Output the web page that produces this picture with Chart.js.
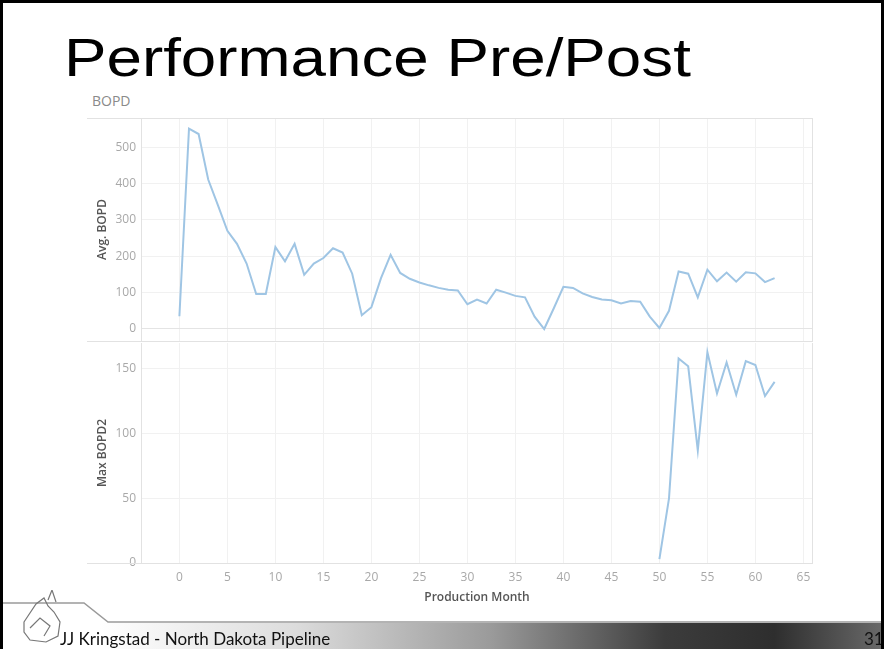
<!DOCTYPE html>
<html>
<head>
<meta charset="utf-8">
<script src="https://cdn.jsdelivr.net/npm/chart.js@4/dist/chart.umd.min.js"></script>
<style>
  html, body { margin:0; padding:0; }
  body { width:884px; height:649px; overflow:hidden; background:#fff; position:relative; }
  #frame { position:absolute; left:0; top:0; width:884px; height:649px; box-sizing:border-box; border:3px solid #000; border-bottom:none; pointer-events:none; z-index:10; }
  #title { position:absolute; left:64px; top:30px; font-family:"Liberation Sans", Arial, sans-serif; font-size:54px; line-height:54px; color:#000; white-space:nowrap; transform-origin:0 0; transform:scaleX(1.18); }
  #sub { position:absolute; left:92px; top:91px; font-family:"Open Sans", sans-serif; font-size:14px; color:#8a8a8a; }
  #cTop { position:absolute; left:0; top:0; }
  #cBot { position:absolute; left:0; top:341px; }
  #footer { position:absolute; left:0; top:590px; }
  #ftext { position:absolute; left:60px; top:628px; font-family:Lato, sans-serif; font-size:17px; color:#111; white-space:nowrap; }
  #fnum { position:absolute; left:864px; top:628px; font-family:Lato, sans-serif; font-size:17px; color:#111; }
</style>
</head>
<body>
<svg id="footer" width="884" height="59" viewBox="0 590 884 59">
  <defs>
    <linearGradient id="g" x1="0" x2="1" y1="0" y2="0">
      <stop offset="0" stop-color="#ffffff"/>
      <stop offset="0.25" stop-color="#dcdcdc"/>
      <stop offset="0.5" stop-color="#9a9a9a"/>
      <stop offset="0.72" stop-color="#3c3c3c"/>
      <stop offset="0.86" stop-color="#2e2e2e"/>
      <stop offset="1" stop-color="#6a6a6a"/>
    </linearGradient>
  </defs>
  <rect x="100" y="623" width="784" height="26" fill="url(#g)"/>
  <path d="M0,603 L84,603 L108,622 L884,622" fill="none" stroke="#9a9a9a" stroke-width="1.5"/>
  <g stroke="#777" stroke-width="1.2" fill="none">
    <path d="M24,622 L36,604 L44,598 L48,606 L54,612 L60,622 L58,636 L46,642 L30,640 L24,632 Z"/>
    <path d="M30,628 L40,618 L50,626 L44,636"/>
    <path d="M48,600 L52,590 L56,602"/>
  </g>
</svg>
<div id="title">Performance Pre/Post</div>
<div id="sub">BOPD</div>
<canvas id="cTop" width="884" height="345"></canvas>
<canvas id="cBot" width="884" height="308"></canvas>
<div id="ftext">JJ Kringstad - North Dakota Pipeline</div>
<div id="fnum">31</div>
<div id="frame"></div>
<script>
// ---------- data ----------
const avgMonths = [0,1,2,3,4,5,6,7,8,9,10,11,12,13,14,15,16,17,18,19,20,21,22,23,24,25,26,27,28,29,30,31,32,33,34,35,36,37,38,39,40,41,42,43,44,45,46,47,48,49,50,51,52,53,54,55,56,57,58,59,60,61,62];
const avgBOPD = [35,551,536,411,341,270,234,180,96,96,225,186,234,149,180,195,222,210,152,38,60,140,204,154,138,128,120,113,108,106,68,81,70,108,100,91,87,34,0,57,116,113,98,88,81,79,70,77,75,34,3,50,158,152,87,163,131,155,130,156,153,129,140];
const maxMonths = [50,51,52,53,54,55,56,57,58,59,60,61,62];
const maxBOPD2 = [3,50,158,152,87,163,131,155,130,156,153,129,140];
const topTicks = [0,100,200,300,400,500];
const botTicks = [0,50,100,150];
const monthTicks = [0,5,10,15,20,25,30,35,40,45,50,55,60,65];

// ---------- style ----------
const LINE = '#9fc5e4';
const GRID = '#f1f1f1';
const FRAME = '#e2e2e2';
const TICK = '#a8a8a8';
const TITLEC = '#555555';
const tickFont = { family: '"Open Sans", sans-serif', size: 12 };
const titleFont = { family: '"Open Sans", sans-serif', size: 12, weight: '600' };

function frameLines(opts) {
  return {
    id: 'frameLines',
    afterDraw(chart) {
      const a = chart.chartArea, ctx = chart.ctx;
      ctx.save();
      ctx.strokeStyle = FRAME; ctx.lineWidth = 1;
      ctx.beginPath();
      if (opts.top) { ctx.moveTo(87, Math.round(a.top) + 0.5); ctx.lineTo(a.right, Math.round(a.top) + 0.5); }
      ctx.moveTo(87, Math.round(a.bottom) + 0.5); ctx.lineTo(a.right, Math.round(a.bottom) + 0.5);
      ctx.moveTo(Math.round(a.left) + 0.5, a.top); ctx.lineTo(Math.round(a.left) + 0.5, a.bottom);
      ctx.moveTo(Math.round(a.right) - 0.5, a.top); ctx.lineTo(Math.round(a.right) - 0.5, a.bottom);
      ctx.stroke();
      ctx.restore();
    }
  };
}

function noPad(s) { s.paddingTop = 0; s.paddingBottom = 0; s.paddingLeft = 0; s.paddingRight = 0; }

function xScale(showLabels) {
  return {
    type: 'linear', min: -4, max: 66,
    afterBuildTicks: s => { s.ticks = monthTicks.map(v => ({ value: v })); },
    grid: { color: GRID, drawTicks: false },
    border: { display: false },
    ticks: { display: showLabels, color: TICK, font: tickFont, padding: 7, maxRotation: 0 },
    title: showLabels ? { display: true, text: 'Production Month', color: TITLEC, font: titleFont, padding: { top: 0, bottom: 3 } } : { display: false },
    afterFit: s => { s.height = showLabels ? 45 : 0; noPad(s); }
  };
}

function yScale(min, max, ticks, title) {
  return {
    type: 'linear', min: min, max: max,
    afterBuildTicks: s => { s.ticks = ticks.map(v => ({ value: v })); },
    grid: { color: ctx => (ctx.tick && ctx.tick.value === 0 ? '#e4e4e4' : GRID), drawTicks: false },
    border: { display: false },
    ticks: { color: TICK, font: tickFont, padding: 5 },
    title: { display: true, text: title, color: TITLEC, font: titleFont, padding: { top: 3, bottom: 3 } },
    afterFit: s => { s.width = 49; noPad(s); }
  };
}

const common = {
  responsive: false,
  animation: false,
  devicePixelRatio: 1,
  plugins: { legend: { display: false }, tooltip: { enabled: false } },
  elements: { point: { radius: 0 }, line: { tension: 0, borderWidth: 2 } }
};

new Chart(document.getElementById('cTop'), {
  type: 'line',
  data: { datasets: [{ data: avgMonths.map((m, i) => ({ x: m, y: avgBOPD[i] })), borderColor: LINE, fill: false }] },
  options: Object.assign({}, common, {
    layout: { autoPadding: false, padding: { left: 92, right: 71, top: 118, bottom: 4 } },
    scales: { x: xScale(false), y: yScale(-33, 580, topTicks, 'Avg. BOPD') }
  }),
  plugins: [frameLines({ top: true })]
});

new Chart(document.getElementById('cBot'), {
  type: 'line',
  data: { datasets: [{ data: maxMonths.map((m, i) => ({ x: m, y: maxBOPD2[i] })), borderColor: LINE, fill: false }] },
  options: Object.assign({}, common, {
    layout: { autoPadding: false, padding: { left: 92, right: 71, top: 2, bottom: 41 } },
    scales: { x: xScale(true), y: yScale(0, 170, botTicks, 'Max BOPD2') }
  }),
  plugins: [frameLines({ top: false })]
});
</script>
</body>
</html>
